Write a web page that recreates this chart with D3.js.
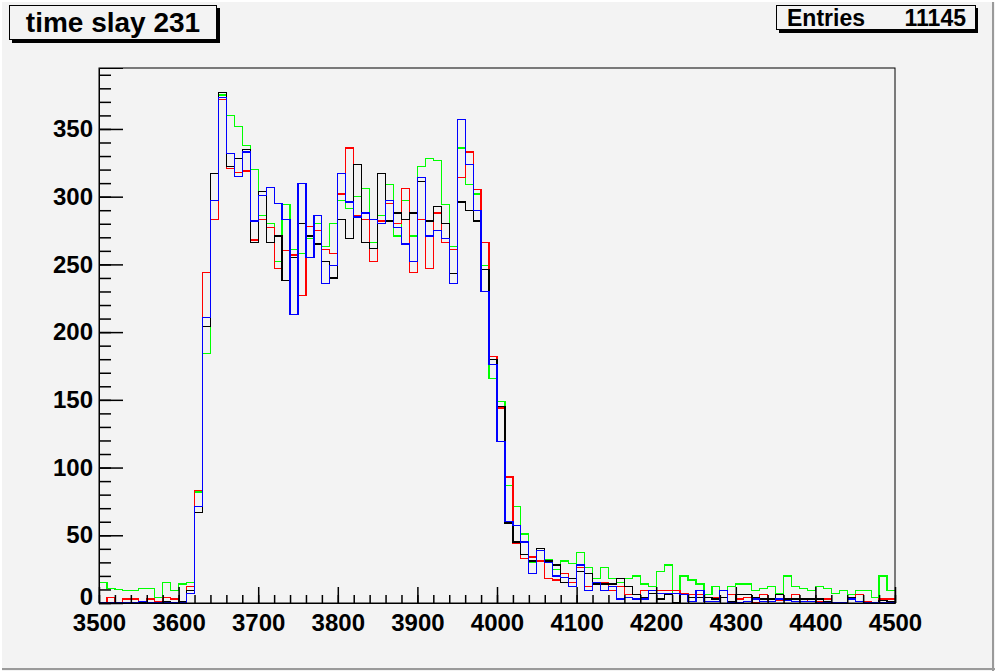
<!DOCTYPE html>
<html>
<head>
<meta charset="utf-8">
<script src="https://cdn.jsdelivr.net/npm/d3@7"></script>
<style>
  html, body { margin: 0; padding: 0; background: #f3f3f3; }
  svg { display: block; }
  text { font-family: "Liberation Sans", Arial, Helvetica, sans-serif; font-weight: bold; }
</style>
</head>
<body>
<svg id="chart" width="995" height="671"></svg>
<script>
// ---- data (bin lower edges 3500..4490, width 10) ----
const binStart = 3500, binWidth = 10, nBins = 100;
const greenVals = [15,11,10,9,9,11,11,4,15,9,14,15,
  82,184,297,375,360,352,338,320,286,280,252,294,261,258,269,280,263,280,297,291,300,306,266,286,309,271,297,271,322,328,327,294,263,336,309,302,249,166,149,87,71,51,30,39,32,25,31,29,37,26,18,26,18,15,18,20,14,12,23,28,7,20,17,14,6,12,9,12,14,14,9,11,12,7,20,12,11,9,12,11,7,9,6,9,9,4,20,9];
const redVals = [0,4,0,3,3,1,3,1,4,3,1,12,
  83,244,283,372,321,318,319,268,283,277,247,260,257,227,278,275,261,258,302,336,286,283,252,282,295,280,306,244,283,247,288,266,261,314,333,305,266,182,144,93,44,33,34,31,18,17,22,15,26,12,15,15,9,12,6,6,9,7,9,9,9,7,6,6,4,4,4,6,3,4,0,6,1,2,3,6,1,3,1,3,0,0,3,6,1,0,3,3];
const blackVals = [0,0,0,0,0,0,0,0,1,0,1,9,
  67,204,317,377,322,328,335,266,304,266,271,238,255,280,271,265,252,240,283,269,324,266,262,317,282,288,283,288,311,282,293,280,243,296,290,282,246,180,145,59,45,36,31,40,31,28,15,18,23,22,14,14,14,18,12,6,4,7,3,6,0,6,4,4,4,3,4,1,6,6,4,3,3,6,3,3,3,3,3,1,0,0,4,1,0,0,2,1];
const blueVals = [0,0,0,0,0,1,0,0,0,0,0,7,
  71,211,297,373,332,315,333,282,301,307,295,283,213,310,255,286,236,249,317,296,285,288,283,280,297,277,265,252,314,271,275,269,236,357,324,290,230,176,119,60,57,45,22,39,30,20,19,12,28,9,15,9,12,3,4,3,3,9,7,7,7,6,1,9,1,1,9,0,0,1,3,1,1,3,2,1,1,1,0,0,0,0,3,1,0,0,0,0];
const seriesNames = ["green", "red", "black", "blue"];
const seriesColors = ["#00ff00", "#ff0000", "#000000", "#0000ff"];
const seriesValues = [greenVals, redVals, blackVals, blueVals];
const xMajorTicks = [3500,3600,3700,3800,3900,4000,4100,4200,4300,4400,4500];
const yMajorTicks = [0,50,100,150,200,250,300,350];
const titleText = "time slay 231";
const entriesLabel = "Entries", entriesValue = "11145";

// ---- layout ----
const W = 995, H = 671;
const fx0 = 99, fx1 = 895, fy0 = 68, fy1 = 603;
const svg = d3.select("#chart");
const bg = "#f3f3f3";

svg.append("rect").attr("x",0).attr("y",0).attr("width",W).attr("height",H).attr("fill",bg);
// canvas border
svg.append("line").attr("x1",W-2).attr("x2",W-2).attr("y1",0).attr("y2",H).attr("stroke","#9a9a9a").attr("stroke-width",2);
svg.append("line").attr("x1",0).attr("x2",W).attr("y1",H-2).attr("y2",H-2).attr("stroke","#9a9a9a").attr("stroke-width",2);
svg.append("line").attr("x1",1).attr("x2",1).attr("y1",0).attr("y2",H).attr("stroke","#ffffff").attr("stroke-width",2);
svg.append("line").attr("x1",0).attr("x2",W).attr("y1",1).attr("y2",1).attr("stroke","#ffffff").attr("stroke-width",2);

const x = d3.scaleLinear().domain([3500, 4500]).range([fx0, fx1]);
const y = d3.scaleLinear().domain([0, 395]).range([fy1, fy0]);

svg.append("defs").append("clipPath").attr("id","clip")
  .append("rect").attr("x",fx0).attr("y",fy0).attr("width",fx1-fx0).attr("height",fy1-fy0);

// histograms
const line = d3.line().x(d => x(d[0])).y(d => y(d[1])).curve(d3.curveStepAfter);
const gH = svg.append("g").attr("clip-path","url(#clip)");
seriesValues.forEach((vals, k) => {
  const pts = vals.map((v, i) => [binStart + i*binWidth, v]);
  pts.push([binStart + nBins*binWidth, vals[vals.length-1]]);
  gH.append("path").datum(pts).attr("d", line)
    .attr("fill","none").attr("stroke", seriesColors[k]).attr("stroke-width",1.2)
    .attr("shape-rendering","crispEdges");
});

// frame
svg.append("rect").attr("x",fx0).attr("y",fy0).attr("width",fx1-fx0).attr("height",fy1-fy0)
  .attr("fill","none").attr("stroke","#000").attr("stroke-width",1);

// x axis minor
const xMinor = d3.range(3500, 4501, 20);
svg.append("g").attr("transform",`translate(0,${fy1})`)
  .call(d3.axisBottom(x).tickValues(xMinor).tickSize(-8).tickFormat(""))
  .call(g => g.select(".domain").remove())
  .call(g => g.selectAll("line").attr("stroke","#000").attr("stroke-width",1.5));
svg.append("g").attr("transform",`translate(0,${fy1})`)
  .call(d3.axisBottom(x).tickValues(xMajorTicks).tickSize(-16).tickPadding(11).tickFormat(d3.format("d")))
  .call(g => g.select(".domain").attr("stroke","#000"))
  .call(g => g.selectAll("line").attr("stroke","#000").attr("stroke-width",1.5))
  .call(g => g.selectAll("text").attr("fill","#000").attr("font-size","24px")
     .attr("font-family",'"Liberation Sans", Arial, sans-serif').attr("font-weight","bold"));

// y axis
const yMinor = d3.range(0, 391, 10);
svg.append("g").attr("transform",`translate(${fx0},0)`)
  .call(d3.axisLeft(y).tickValues(yMinor).tickSize(-12).tickFormat(""))
  .call(g => g.select(".domain").remove())
  .call(g => g.selectAll("line").attr("stroke","#000").attr("stroke-width",1.5));
svg.append("g").attr("transform",`translate(${fx0},0)`)
  .call(d3.axisLeft(y).tickValues(yMajorTicks).tickSize(-24).tickPadding(6).tickFormat(d3.format("d")))
  .call(g => g.select(".domain").attr("stroke","#000"))
  .call(g => g.selectAll("line").attr("stroke","#000").attr("stroke-width",1.5))
  .call(g => g.selectAll("text").attr("fill","#000").attr("font-size","24px")
     .attr("font-family",'"Liberation Sans", Arial, sans-serif').attr("font-weight","bold"))
  .call(g => g.selectAll(".tick").filter(d => d === 0).select("text").attr("dy","0.05em"));

// title box
svg.append("rect").attr("x",12).attr("y",8).attr("width",208).attr("height",35).attr("fill","#000");
svg.append("rect").attr("x",9.5).attr("y",5.5).attr("width",207).attr("height",34).attr("fill",bg).attr("stroke","#000").attr("stroke-width",1);
svg.append("text").attr("x",113).attr("y",32).attr("text-anchor","middle").attr("font-size","28px").attr("fill","#000").text(titleText);

// entries box
svg.append("rect").attr("x",779).attr("y",8).attr("width",199).attr("height",25).attr("fill","#000");
svg.append("rect").attr("x",776.5).attr("y",5.5).attr("width",199).attr("height",24).attr("fill",bg).attr("stroke","#000").attr("stroke-width",1);
svg.append("text").attr("x",787).attr("y",26).attr("font-size","23px").attr("fill","#000").text(entriesLabel);
svg.append("text").attr("x",966).attr("y",26).attr("text-anchor","end").attr("font-size","23px").attr("fill","#000").text(entriesValue);
</script>
</body>
</html>
